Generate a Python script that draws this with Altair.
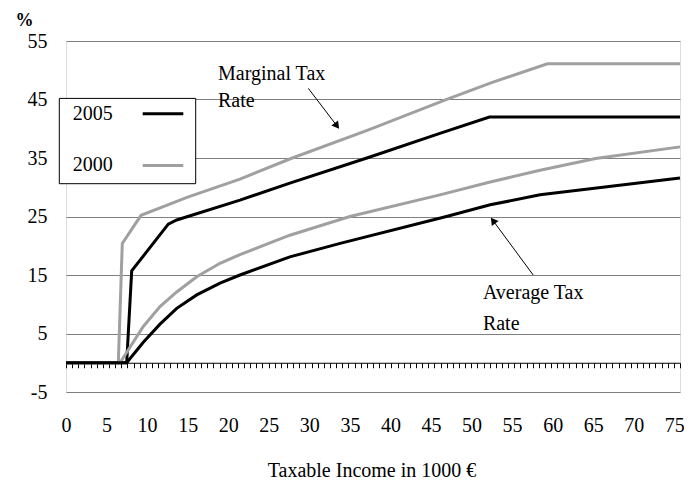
import altair as alt
import pandas as pd

# ---- data ----
years = ["2005", "2000"]
year_colors = ["#000000", "#a0a0a0"]

marg_2000_x = [0, 6.45, 6.94, 9.25, 15.0, 21.45, 27.9, 37.3, 46.7, 52.3, 59.35, 75.7]
marg_2000_y = [0, 0, 20.4, 25.2, 28.3, 31.4, 35.0, 39.8, 44.9, 47.8, 51.1, 51.1]

marg_2005_x = [0, 7.48, 8.10, 12.61, 13.65, 21.45, 27.6, 37.1, 46.1, 52.2, 75.7]
marg_2005_y = [0, 0, 15.7, 23.7, 24.4, 27.8, 30.7, 35.0, 39.2, 42.0, 42.0]

avg_2000_x = [0, 6.66, 9.53, 11.59, 13.65, 16.12, 18.99, 21.45, 27.6, 35.0, 46.1, 52.3, 58.45, 65.3, 75.7]
avg_2000_y = [0, 0, 6.2, 9.6, 12.1, 14.7, 17.0, 18.5, 21.8, 25.0, 28.7, 30.9, 32.9, 34.9, 36.9]

avg_2005_x = [0, 7.48, 9.53, 11.59, 13.65, 16.12, 18.99, 21.45, 27.6, 33.8, 46.9, 52.3, 58.45, 66.7, 75.7]
avg_2005_y = [0, 0, 3.5, 6.6, 9.3, 11.6, 13.6, 15.0, 18.1, 20.4, 25.0, 27.0, 28.7, 30.1, 31.6]

x_labels = list(range(0, 76, 5))
y_labels = [-5, 5, 15, 25, 35, 45, 55]

ann_labels = ["Marginal Tax", "Rate", "Average Tax", "Rate"]
ann_x = [18.74, 18.74, 51.4, 51.4]
ann_y = [48.4, 43.8, 10.9, 5.6]

arrow_x = [29.88, 57.6]
arrow_y = [46.9, 15.0]
arrow_x2 = [33.4, 52.65]
arrow_y2 = [40.5, 24.3]
arrow_angle = [142.8, 323.4]

# ---- build tables ----
rows = []
for curve, year, xs, ys in [
    ("marg2000", "2000", marg_2000_x, marg_2000_y),
    ("marg2005", "2005", marg_2005_x, marg_2005_y),
    ("avg2000", "2000", avg_2000_x, avg_2000_y),
    ("avg2005", "2005", avg_2005_x, avg_2005_y),
]:
    for xv, yv in zip(xs, ys):
        rows.append({"curve": curve, "year": year, "x": xv, "y": yv})
df = pd.DataFrame(rows)

XMAX = 75.7
xscale = alt.Scale(domain=[0, XMAX], nice=False, zero=False)
yscale = alt.Scale(domain=[-5, 55], nice=False, zero=False)
FONT = "Liberation Serif"
FS = 20

yaxis = alt.Axis(
    values=y_labels, title="%", grid=True, gridColor="#7f7f7f", gridWidth=1,
    domain=False, ticks=False, tickSize=0, labelPadding=19,
    labelExpr="datum.value < 0 ? '-' + format(-datum.value, 'd') : format(datum.value, 'd')",
    labelFont=FONT, labelFontSize=FS, labelColor="black",
    titleFont=FONT, titleFontSize=18, titleFontWeight="bold", titleColor="black",
    titleAngle=0, titleX=-51, titleY=-16, titleAlign="left", titleBaseline="alphabetic")

lines = alt.Chart(df).mark_line(strokeWidth=3).encode(
    x=alt.X("x:Q", scale=xscale, axis=alt.Axis(
        orient="bottom", values=x_labels, title="Taxable Income in 1000 €",
        domain=False, ticks=False, tickSize=0, grid=False, labelFlush=False,
        labelOverlap=False, labelPadding=39, labelBaseline="alphabetic",
        labelFont=FONT, labelFontSize=FS, labelColor="black",
        titleFont=FONT, titleFontSize=FS, titleFontWeight="normal", titleColor="black",
        titleX=305.5, titleY=84.5, titleAlign="center", titleBaseline="alphabetic")),
    y=alt.Y("y:Q", scale=yscale, axis=yaxis),
    color=alt.Color("year:N", scale=alt.Scale(domain=years, range=year_colors), legend=None),
    detail="curve:N",
)

tick_vals = [round(i * XMAX / 100, 4) for i in range(101)]
zero_axis = alt.Chart(pd.DataFrame({"t": [0, XMAX]})).mark_point(opacity=0).encode(
    x=alt.X("t:Q", scale=xscale, axis=alt.Axis(
        orient="bottom", offset=-29.25, values=tick_vals, labels=False, title=None,
        domain=True, domainColor="black", domainWidth=1, ticks=True, tickColor="black",
        tickSize=5, tickWidth=1, grid=False)),
    y=alt.Y("t:Q", scale=yscale, axis=yaxis),
)

ann_df = pd.DataFrame({"label": ann_labels, "x": ann_x, "y": ann_y})
ann = alt.Chart(ann_df).mark_text(align="left", baseline="alphabetic", font=FONT,
                                  fontSize=FS, color="black").encode(
    x=alt.X("x:Q", scale=xscale, axis=None),
    y=alt.Y("y:Q", scale=yscale, axis=yaxis),
    text="label:N",
)

arr_df = pd.DataFrame({"x": arrow_x, "y": arrow_y, "x2": arrow_x2, "y2": arrow_y2,
                       "angle": arrow_angle})
arrow_lines = alt.Chart(arr_df).mark_rule(color="black", strokeWidth=1).encode(
    x=alt.X("x:Q", scale=xscale, axis=None),
    y=alt.Y("y:Q", scale=yscale, axis=yaxis),
    x2="x2:Q", y2="y2:Q",
)
arrow_heads = alt.Chart(arr_df).mark_point(shape="triangle-up", filled=True, color="black",
                                           size=70, opacity=1).encode(
    x=alt.X("x2:Q", scale=xscale, axis=None),
    y=alt.Y("y2:Q", scale=yscale, axis=yaxis),
    angle=alt.Angle("angle:Q", scale=None),
)

# legend box drawn in the top-left
one = pd.DataFrame({"a": [0]})
leg_box = alt.Chart(one).mark_rect(fill="white", stroke="black", strokeWidth=1).encode(
    x=alt.value(-6.7), x2=alt.value(129.7), y=alt.value(57.4), y2=alt.value(142.7))
leg_layers = [leg_box]
for i, (yr, col) in enumerate(zip(years, year_colors)):
    yp = 72.7 + i * 51.7
    leg_layers.append(alt.Chart(one).mark_text(align="left", baseline="middle", font=FONT,
                                               fontSize=FS, color="black", text=yr).encode(
        x=alt.value(6.7), y=alt.value(yp)))
    leg_layers.append(alt.Chart(one).mark_rule(color=col, strokeWidth=3).encode(
        x=alt.value(76.7), x2=alt.value(117.3), y=alt.value(yp)))

chart = alt.layer(zero_axis, lines, ann, arrow_lines, arrow_heads, *leg_layers).resolve_axis(
    x="independent"
).properties(
    width=614, height=351,
    autosize=alt.AutoSizeParams(type="none"),
    padding={"left": 58, "top": 33, "right": 4, "bottom": 92},
).configure_view(strokeWidth=0, stroke="transparent").configure(background="white")

chart.save("out.html", embed_options={"renderer": "svg", "actions": False})
